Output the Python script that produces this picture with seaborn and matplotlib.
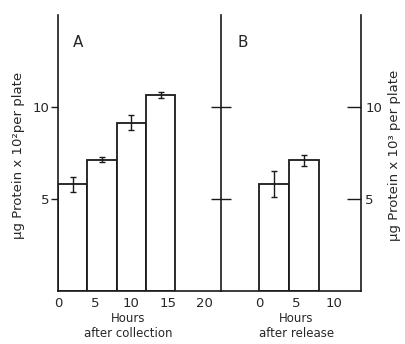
import pandas as pd
import matplotlib.pyplot as plt
import seaborn as sns

# Set the style
sns.set_style("white")
plt.rcParams['font.family'] = ['DejaVu Sans']

# Panel A: hours after collection
a_mid = [2, 6, 10, 14]
a_protein = [5.8, 7.15, 9.15, 10.65]
a_err = [0.4, 0.15, 0.4, 0.15]

# Panel B: hours after release
b_mid = [2, 6]
b_protein = [5.8, 7.1]
b_err = [0.7, 0.3]

y_ticks = [5, 10]
a_xticks = [0, 5, 10, 15, 20]
b_xticks = [0, 5, 10]

line = '#1a1a1a'

fig = plt.figure(figsize=(4.06, 3.44), dpi=100)
axA = fig.add_axes([0.143, 0.154, 0.401, 0.802])
axB = fig.add_axes([0.544, 0.154, 0.345, 0.802])

dfA = pd.DataFrame({'hours': a_mid, 'protein': a_protein})
dfB = pd.DataFrame({'hours': b_mid, 'protein': b_protein})

for ax, df, err in [(axA, dfA, a_err), (axB, dfB, b_err)]:
    sns.barplot(x='hours', y='protein', data=df, native_scale=True, width=1,
                color='white', edgecolor=line, linewidth=1.3, ax=ax)
    ax.errorbar(df['hours'], df['protein'], yerr=err, fmt='none',
                ecolor=line, elinewidth=1, capsize=2, capthick=1)
    ax.set_ylim(0, 15)
    ax.set_facecolor('none')
    ax.spines['top'].set_visible(False)
    for s in ax.spines.values():
        s.set_color(line)
        s.set_linewidth(1.2)

# Panel A axes
axA.set_xlim(0, 22.2)
axA.set_xticks(a_xticks)
axA.set_xticklabels([str(t) for t in a_xticks])
axA.set_yticks(y_ticks)
axA.spines['right'].set_visible(False)
axA.tick_params(axis='x', direction='in', length=5, width=1, color=line,
                labelsize=9.5, pad=4)
axA.tick_params(axis='y', direction='out', length=5, width=1, color=line,
                labelsize=9.5, pad=1, left=True)
axA.set_xlabel('Hours\nafter collection', fontsize=8.5, linespacing=1.2)
axA.xaxis.set_label_coords(0.43, -0.075)
axA.set_ylabel('μg Protein x 10²per plate', fontsize=9.5)
axA.yaxis.set_label_coords(-0.2, 0.49)
axA.text(2.7, 13.5, 'A', fontsize=11, ha='center', va='center')

# Panel B axes: left spine is the divider with crossing ticks
axB.set_xlim(-5.07, 13.6)
axB.set_xticks(b_xticks)
axB.set_xticklabels([str(t) for t in b_xticks])
axB.set_yticks(y_ticks)
axB.set_ylabel('')
axB.spines['right'].set_visible(False)
axB.tick_params(axis='x', direction='in', length=5, width=1, color=line,
                labelsize=9.5, pad=4)
axB.tick_params(axis='y', left=True, labelleft=False, direction='inout',
                length=14, width=1, color=line)
axB.set_xlabel('Hours\nafter release', fontsize=8.5, linespacing=1.2)
axB.xaxis.set_label_coords(0.54, -0.075)
axB.text(-2.1, 13.5, 'B', fontsize=11, ha='center', va='center')

# right-hand scale for panel B
axR = axB.twinx()
axR.set_ylim(0, 15)
axR.set_yticks(y_ticks)
for side in ['top', 'left', 'bottom']:
    axR.spines[side].set_visible(False)
axR.spines['right'].set_color(line)
axR.spines['right'].set_linewidth(1.2)
axR.tick_params(axis='y', right=True, direction='in', length=10, width=1,
                color=line, labelsize=9.5, pad=3)
axR.set_ylabel('μg Protein x 10³ per plate', fontsize=9.5, rotation=90)
axR.yaxis.set_label_coords(1.19, 0.49)

fig.savefig('out.png', dpi=100)
plt.close()
